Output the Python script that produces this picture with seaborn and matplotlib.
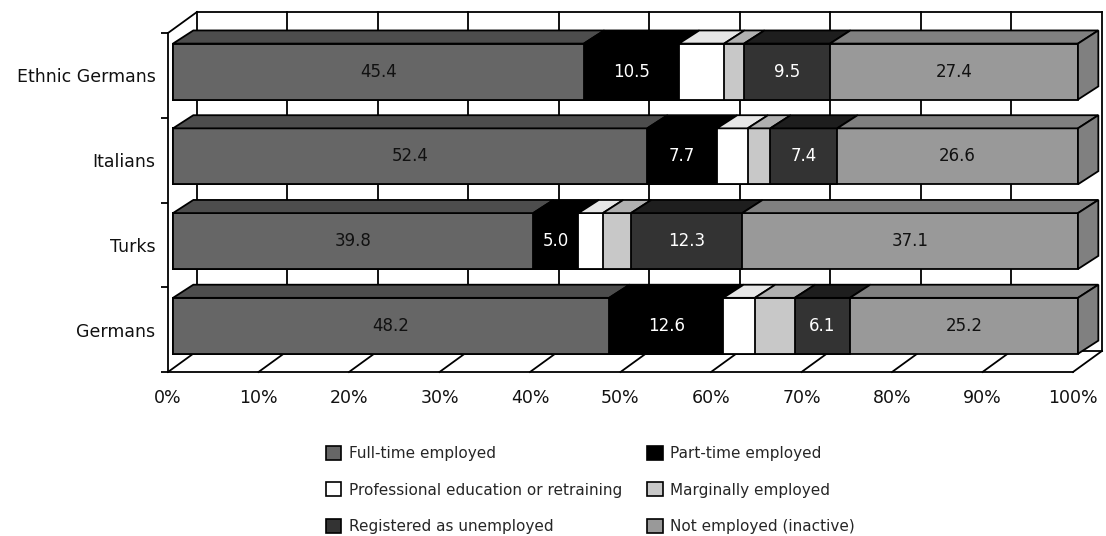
import matplotlib
matplotlib.use("Agg")
import matplotlib.pyplot as plt
from matplotlib.patches import Polygon, Patch
from matplotlib.lines import Line2D
import numpy as np
import pandas as pd
import seaborn as sns

# ---------------- data ----------------
groups = ["Ethnic Germans", "Italians", "Turks", "Germans"]
series = ["Full-time employed", "Part-time employed",
          "Professional education or retraining", "Marginally employed",
          "Registered as unemployed", "Not employed (inactive)"]
full_time = [45.4, 52.4, 39.8, 48.2]
part_time = [10.5, 7.7, 5.0, 12.6]
education = [5.0, 3.4, 2.7, 3.5]
marginal = [2.2, 2.5, 3.1, 4.4]
unemployed = [9.5, 7.4, 12.3, 6.1]
inactive = [27.4, 26.6, 37.1, 25.2]
show_label = [True, True, False, False, True, True]
tick_labels = ["0%", "10%", "20%", "30%", "40%", "50%",
               "60%", "70%", "80%", "90%", "100%"]

# ---------------- styles ----------------
front_col = ["#666666", "#000000", "#ffffff", "#c8c8c8", "#333333", "#999999"]
top_col = ["#4d4d4d", "#000000", "#e6e6e6", "#b0b0b0", "#1e1e1e", "#808080"]
text_col = ["#111111", "#ffffff", "#111111", "#111111", "#ffffff", "#111111"]

sns.set_theme(style="white")
plt.rcParams["font.family"] = ["DejaVu Sans"]

W, H = 1106, 536
fig = plt.figure(figsize=(W / 100, H / 100), dpi=100)
# front axis: 0% at x=168px, 100% at 1073px, y from 33px to 372px
ax = fig.add_axes([168 / W, 1 - 372 / H, (1073 - 168) / W, (372 - 33) / H])

values = np.array([full_time, part_time, education, marginal, unemployed, inactive])
ends = np.cumsum(values, axis=0)
starts = ends - values

df = pd.DataFrame({"group": groups})
for k in range(len(series)):
    df[f"end{k}"] = ends[k]

BAR_H = 0.66
LW = 1.3
# stacked bars drawn from the longest cumulative segment back to the first
for k in reversed(range(len(series))):
    sns.barplot(data=df, x=f"end{k}", y="group", orient="h", color=front_col[k],
                saturation=1, edgecolor="black", linewidth=LW, width=BAR_H,
                errorbar=None, ax=ax, zorder=2)
for p in ax.patches:
    p.set_clip_on(False)

# axis geometry (bar plane offset slightly behind the front axis)
x_front0 = -0.55
y_bot, y_top = 3.545, -0.455
ax.set_xlim(x_front0, 100 + x_front0)
ax.set_ylim(y_bot, y_top)

# depth offsets (data units); "up" on screen is negative y (inverted axis)
wall_dx, wall_dy = 3.2, 0.248
bar_dx, bar_dy = 2.25, 0.155

# back wall, floor and gridlines
line_kw = dict(color="black", lw=LW, zorder=0.5, clip_on=False,
               solid_capstyle="projecting")
grid_x = [x_front0 + 10 * k for k in range(11)]
bx0 = grid_x[0] + wall_dx
bx1 = grid_x[-1] + wall_dx
byb, byt = y_bot - wall_dy, y_top - wall_dy
for gx in grid_x:
    ax.add_line(Line2D([gx + wall_dx] * 2, [byb, byt], **line_kw))
    ax.add_line(Line2D([gx, gx + wall_dx], [y_bot, byb], **line_kw))
ax.add_line(Line2D([bx0, bx1], [byt, byt], **line_kw))
ax.add_line(Line2D([bx0, bx1], [byb, byb], **line_kw))
ax.add_line(Line2D([x_front0, bx0], [y_top, byt], **line_kw))

# 3D top faces, end face and value labels
for i, g in enumerate(groups):
    yt = i - BAR_H / 2
    yb = i + BAR_H / 2
    for k in range(len(series)):
        x0, x1 = starts[k, i], ends[k, i]
        poly = Polygon([(x0, yt), (x1, yt), (x1 + bar_dx, yt - bar_dy),
                        (x0 + bar_dx, yt - bar_dy)], closed=True,
                       facecolor=top_col[k], edgecolor="black", lw=LW,
                       zorder=2.1, clip_on=False, joinstyle="miter")
        ax.add_patch(poly)
        if show_label[k]:
            ax.text((x0 + x1) / 2, i, f"{values[k, i]:.1f}", ha="center",
                    va="center", color=text_col[k], fontsize=12, zorder=3)
    xe = ends[-1, i]
    side = Polygon([(xe, yt), (xe + bar_dx, yt - bar_dy),
                    (xe + bar_dx, yb - bar_dy), (xe, yb)], closed=True,
                   facecolor=top_col[-1], edgecolor="black", lw=LW,
                   zorder=2.1, clip_on=False, joinstyle="miter")
    ax.add_patch(side)

# spines and ticks
for s in ["top", "right"]:
    ax.spines[s].set_visible(False)
for s in ["left", "bottom"]:
    ax.spines[s].set_color("black")
    ax.spines[s].set_linewidth(LW)
ax.set_xticks(grid_x)
ax.set_xticklabels(tick_labels, fontsize=12.5)
ax.tick_params(axis="x", direction="out", length=4, width=LW, color="black",
               pad=8, labelcolor="#111111")
ax.set_yticks([y_top + k for k in range(5)])
ax.set_yticklabels([])
ax.set_yticks([k + 0.045 for k in range(4)], minor=True)
ax.set_yticklabels(groups, minor=True, fontsize=12.5, color="#111111")
ax.tick_params(axis="y", which="major", direction="out", length=5, width=LW,
               color="black", left=True)
ax.tick_params(axis="y", which="minor", length=0, pad=9)
ax.set_xlabel("")
ax.set_ylabel("")
ax.grid(False)
ax.set_facecolor("none")

# legend
handles = [Patch(facecolor=front_col[k], edgecolor="black", lw=1.2, label=series[k])
           for k in [0, 2, 4, 1, 3, 5]]
fig.legend(handles=handles, ncol=2, loc="upper left",
           bbox_to_anchor=(326 / W, 1 - 446 / H), frameon=False, fontsize=11,
           handlelength=1.0, handleheight=1.0, handletextpad=0.5,
           labelspacing=1.4, columnspacing=1.65, borderpad=0, borderaxespad=0)

fig.savefig("out.png", dpi=100)
